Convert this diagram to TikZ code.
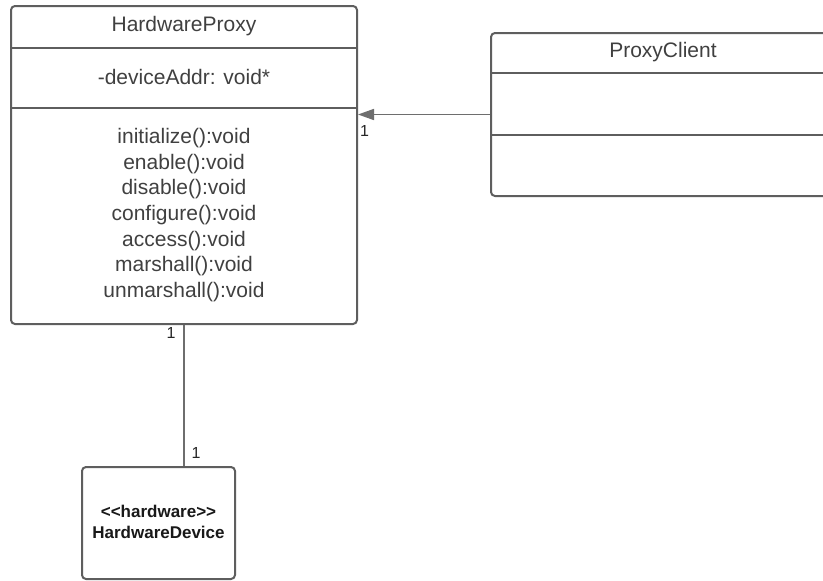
\documentclass[tikz,border=0pt]{standalone}
\usepackage{fontspec}
\setmainfont{Liberation Sans}
\usetikzlibrary{arrows.meta}
\definecolor{ln}{HTML}{5E5E5E}
\definecolor{tx}{HTML}{404040}
\tikzset{
  classbox/.style={draw=ln, line width=2pt, rounded corners=4pt, fill=white, inner sep=0pt},
  divider/.style={draw=ln, line width=2pt},
  conn/.style={draw=ln!90, line width=1.6pt},
  label/.style={text=tx, inner sep=0pt, font=\fontsize{21}{25.7}\selectfont},
  mult/.style={text=black!85, inner sep=0pt, font=\fontsize{16}{18}\selectfont},
  hwtext/.style={text=black!90, inner sep=0pt, align=center, font=\bfseries\fontsize{17}{21}\selectfont},
}
\begin{document}
\begin{tikzpicture}[x=1pt,y=-1pt]
\clip (0,0) rectangle (823,581);
\fill[white] (0,0) rectangle (823,581);

% HardwareProxy class
\node[classbox, minimum width=346pt, minimum height=318pt] (hp) at (184,165) {};
\coordinate (hpd1) at (11,48);
\coordinate (hpd2) at (11,108);
\draw[divider] (hpd1) -- (hpd1 -| hp.east);
\draw[divider] (hpd2) -- (hpd2 -| hp.east);
\node[label] (hpname) at (184,26) {HardwareProxy};
\node[label] (hpattr) at (184,77) {-deviceAddr: void*};
\node[label, align=center, anchor=north] (hpops) at (184,128) {initialize():void\\enable():void\\disable():void\\configure():void\\access():void\\marshall():void\\unmarshall():void};

% ProxyClient class (cut at the right edge)
\node[classbox, minimum width=344pt, minimum height=163pt] (pc) at (663,114.5) {};
\coordinate (pcd1) at (491,73);
\coordinate (pcd2) at (491,135);
\draw[divider] (pcd1) -- (pcd1 -| pc.east);
\draw[divider] (pcd2) -- (pcd2 -| pc.east);
\node[label] (pcname) at (663,52) {ProxyClient};

% HardwareDevice
\node[classbox, minimum width=153pt, minimum height=112pt] (hd) at (158.5,523) {};
\node[hwtext] (hdtext) at (158.5,522) {<{}<hardware>{}>\\HardwareDevice};

% connectors
\draw[conn, -{Triangle[length=16pt,width=11pt]}] (pc.west) -- (pc.west -| hp.east);
\draw[conn] (hp.south) -- (hp.south |- hd.north);

% multiplicities
\node[mult, anchor=west] (m1) at (360,131) {1};
\node[mult] (m2) at (171,333) {1};
\node[mult] (m3) at (196,453) {1};
\end{tikzpicture}
\end{document}
